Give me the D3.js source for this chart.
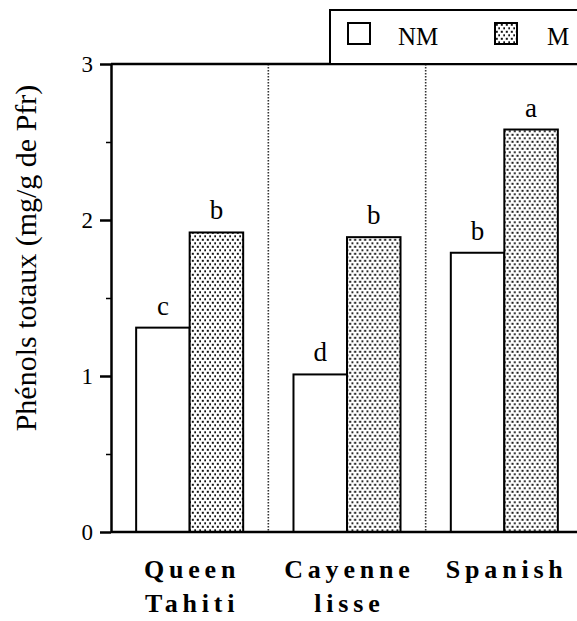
<!DOCTYPE html>
<html><head><meta charset="utf-8">
<script src="https://cdn.jsdelivr.net/npm/d3@7"></script>
<style>
html,body{margin:0;padding:0;background:#fff;}
svg{display:block;}
svg text{font-family:'Liberation Serif','Times New Roman',Times,Tinos,'Noto Serif','DejaVu Serif',FreeSerif,serif;}
</style></head>
<body>
<svg id="chart" width="577" height="621"></svg>
<script>
const categories = ["Queen Tahiti", "Cayenne lisse", "Spanish"];
const categoryLines = [["Queen", "Tahiti"], ["Cayenne", "lisse"], ["Spanish"]];
const series = ["NM", "M"];
const valuesNM = [1.31, 1.01, 1.79];
const valuesM = [1.92, 1.89, 2.58];
const lettersNM = ["c", "d", "b"];
const lettersM = ["b", "b", "a"];
const yTicks = [0, 1, 2, 3];
const yMinorTicks = [0.5, 1.5, 2.5];
const yLabel = "Phénols totaux (mg/g de Pfr)";

const svg = d3.select("#chart");
const defs = svg.append("defs");
const pat = defs.append("pattern").attr("id", "stipple")
  .attr("patternUnits", "userSpaceOnUse").attr("width", 5).attr("height", 7);
pat.append("rect").attr("width", 5).attr("height", 7).attr("fill", "#fff");
pat.append("rect").attr("x", 0.8).attr("y", 0.8).attr("width", 2).attr("height", 2).attr("fill", "#111");
pat.append("rect").attr("x", 3.3).attr("y", 4.3).attr("width", 2).attr("height", 2).attr("fill", "#111");

const pLeft = 111, pRight = 583, pTop = 64, pBottom = 532;
const x = d3.scaleBand().domain(categories).range([pLeft, pRight]).padding(0);
const xs = d3.scaleBand().domain(series).range([0, x.bandwidth()]).paddingInner(0).paddingOuter(0.47);
const y = d3.scaleLinear().domain([0, 3]).range([pBottom, pTop]);

const data = categories.map((c, i) => ({
  cat: c,
  bars: [
    {s: "NM", v: valuesNM[i], l: lettersNM[i]},
    {s: "M", v: valuesM[i], l: lettersM[i]}
  ]
}));

// separators
svg.append("g").selectAll("line").data(categories.slice(1)).join("line")
  .attr("x1", d => x(d)).attr("x2", d => x(d))
  .attr("y1", y(3)).attr("y2", y(0))
  .attr("stroke", "#333").attr("stroke-width", 1.6).attr("stroke-dasharray", "1.5,1.5");

// bars
const g = svg.append("g").selectAll("g").data(data).join("g")
  .attr("transform", d => `translate(${x(d.cat)},0)`);
g.selectAll("rect").data(d => d.bars).join("rect")
  .attr("x", d => xs(d.s)).attr("width", xs.bandwidth())
  .attr("y", d => y(d.v)).attr("height", d => y(0) - y(d.v))
  .attr("fill", d => d.s === "M" ? "url(#stipple)" : "#fff")
  .attr("stroke", "#000").attr("stroke-width", 2);
g.selectAll("text").data(d => d.bars).join("text")
  .attr("x", d => xs(d.s) + xs.bandwidth() / 2)
  .attr("y", d => y(d.v) - 13)
  .attr("text-anchor", "middle").attr("font-size", 27)
  .text(d => d.l);

// axes
const yAxis = d3.axisLeft(y).tickValues(yTicks).tickFormat(d3.format("d")).tickSize(11).tickPadding(7).tickSizeOuter(0);
const ya = svg.append("g").attr("transform", `translate(${pLeft},0)`).call(yAxis);
ya.attr("font-family", null).attr("font-size", 23);
ya.select(".domain").attr("stroke-width", 2.5);
ya.selectAll(".tick line").attr("stroke-width", 2.5);
ya.selectAll(".tick text").attr("fill", "#000");
const yMinor = d3.axisLeft(y).tickValues(yMinorTicks).tickFormat("").tickSize(5).tickSizeOuter(0);
const ym = svg.append("g").attr("transform", `translate(${pLeft},0)`).call(yMinor);
ym.select(".domain").remove();
ym.selectAll(".tick line").attr("stroke-width", 1.5);

// top and bottom frame lines
svg.append("line").attr("x1", pLeft).attr("x2", 577).attr("y1", y(3)).attr("y2", y(3))
  .attr("stroke", "#000").attr("stroke-width", 2.5);
svg.append("line").attr("x1", pLeft).attr("x2", 577).attr("y1", y(0)).attr("y2", y(0))
  .attr("stroke", "#000").attr("stroke-width", 2.5);

// category labels
const lab = svg.append("g").selectAll("text").data(categories).join("text")
  .attr("text-anchor", "middle").attr("font-size", 26).attr("font-weight", "bold")
  .attr("letter-spacing", 4.8)
  .attr("transform", d => `translate(${x(d) + x.bandwidth() / 2 + 2.4},0)`);
lab.each(function(d, i) {
  d3.select(this).selectAll("tspan").data(categoryLines[i]).join("tspan")
    .attr("x", 0).attr("y", (t, j) => 578 + j * 34).text(t => t);
});

// y label
svg.append("text").attr("transform", "translate(36,258) rotate(-90)")
  .attr("text-anchor", "middle").attr("font-size", 30).text(yLabel);

// legend
svg.append("rect").attr("x", 330).attr("y", 10).attr("width", 260).attr("height", 54)
  .attr("fill", "#fff").attr("stroke", "#000").attr("stroke-width", 2);
const legX = [348, 495];
const leg = svg.append("g").selectAll("g").data(series).join("g")
  .attr("transform", (d, i) => `translate(${legX[i]},23)`);
leg.append("rect").attr("width", 22).attr("height", 21)
  .attr("fill", d => d === "M" ? "url(#stipple)" : "#fff")
  .attr("stroke", "#000").attr("stroke-width", 2);
leg.append("text").attr("x", (d, i) => i === 0 ? 50 : 52).attr("y", 22)
  .attr("font-size", 25).text(d => d);
</script>
</body></html>
